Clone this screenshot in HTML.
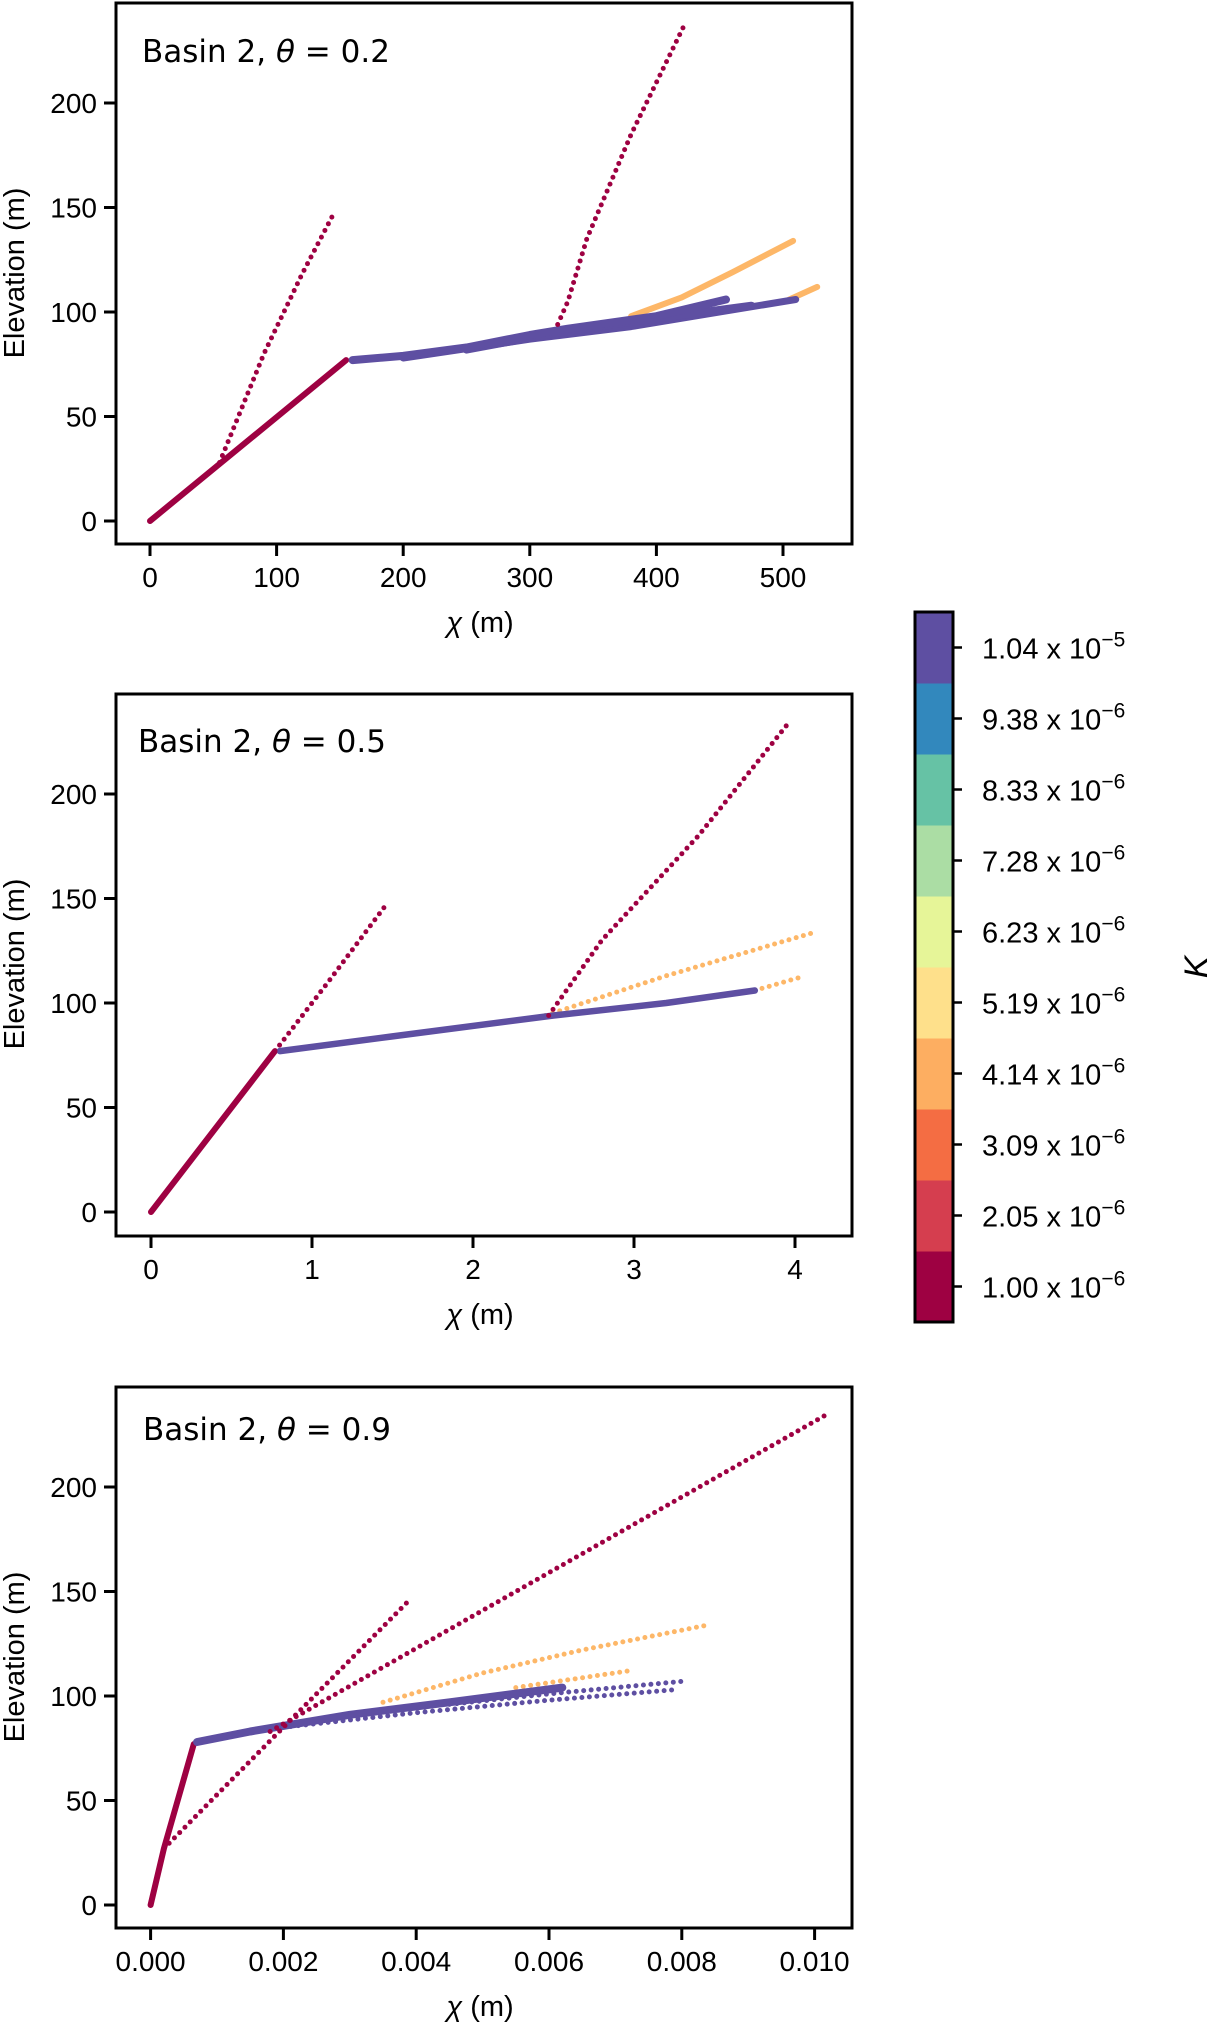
<!DOCTYPE html>
<html><head><meta charset="utf-8"><style>
body{margin:0;background:#fff;}
svg text{font-family:"Liberation Sans",Arial,sans-serif;fill:#000;}
.ann{font-family:"DejaVu Sans","Liberation Sans",sans-serif;}
</style></head><body>
<svg id="fig" width="1207" height="2022" viewBox="0 0 1207 2022" xmlns="http://www.w3.org/2000/svg">
</svg>
<script>
// ---- Panel 1 (theta = 0.2) data: [chi, elevation]
const p1Trunk = [[0,0],[155,77]];
const p1Main = [[160,77],[200,79],[250,83],[300,89],[330,92],[400,98],[455,106]];
const p1Low = [[200,78],[300,87],[380,93],[440,99],[510,106]];
const p1Mid = [[250,82],[330,91],[400,97],[475,103]];
const p1Orange = [[380,98],[420,107],[460,119],[508,134]];
const p1Orange2 = [[505,106],[527,112]];
const p1DotA = [[55,28],[90,80],[120,118],[145,147]];
const p1DotB = [[322,94],[330,105],[345,135],[380,185],[421,236]];
const p1XTicks = [0,100,200,300,400,500];
const p1XLabels = ["0","100","200","300","400","500"];
// ---- Panel 2 (theta = 0.5)
const p2Trunk = [[0,0],[0.77,77]];
const p2Main = [[0.8,77],[1.5,84],[2.5,94],[3.2,100],[3.75,106]];
const p2Orange = [[2.45,94],[3.2,113],[4.13,134]];
const p2Orange2 = [[3.75,106],[4.02,112]];
const p2DotA = [[0.77,77],[1.1,110],[1.46,147]];
const p2DotB = [[2.47,94],[2.8,130],[3.4,180],[3.97,235]];
const p2XTicks = [0,1,2,3,4];
const p2XLabels = ["0","1","2","3","4"];
// ---- Panel 3 (theta = 0.9)
const p3Trunk = [[0,0],[0.0002,27],[0.00065,77]];
const p3Main = [[0.0007,78],[0.0015,83],[0.003,91],[0.0045,97],[0.0062,104]];
const p3Low = [[0.002,85],[0.004,92],[0.006,98],[0.0079,103]];
const p3Mid = [[0.0045,96],[0.006,101],[0.008,107]];
const p3Orange = [[0.0035,97],[0.005,111],[0.0065,122],[0.0084,134]];
const p3Orange2 = [[0.0055,104],[0.0072,112]];
const p3DotA = [[0.0002,27],[0.002,85],[0.0039,146]];
const p3DotB = [[0.0018,83],[0.0102,235]];
const p3XTicks = [0,0.002,0.004,0.006,0.008,0.010];
const p3XLabels = ["0.000","0.002","0.004","0.006","0.008","0.010"];
// ---- shared
const yTicks = [0,50,100,150,200];
const yLabels = ["0","50","100","150","200"];
const cbColors = ["#9e0142","#d53e4f","#f46d43","#fdae61","#fee08b","#e6f598","#abdda4","#66c2a5","#3288bd","#5e4fa2"];
const cbMantissa = ["1.00","2.05","3.09","4.14","5.19","6.23","7.28","8.33","9.38","1.04"];
const cbExp = ["\u22126","\u22126","\u22126","\u22126","\u22126","\u22126","\u22126","\u22126","\u22126","\u22125"];

const NS="http://www.w3.org/2000/svg";
const fig=document.getElementById('fig');
function mk(tag,attrs,parent){const e=document.createElementNS(NS,tag);for(const k in attrs)e.setAttribute(k,attrs[k]);(parent||fig).appendChild(e);return e;}

const PURPLE="#5e4fa2",ORANGE="#fdb768",RED="#9e0142";
const panels=[
 {top:3,bottom:544,x0:150,xs:1.266,label:"0.2",lx:142,ly:62,xt:p1XTicks,xl:p1XLabels,
  series:[[p1Trunk,RED,false,6],[p1Orange,ORANGE,false,6],[p1Orange2,ORANGE,false,6],[p1Low,PURPLE,false,7],[p1Mid,PURPLE,false,8],[p1Main,PURPLE,false,8],[p1DotA,RED,true],[p1DotB,RED,true]]},
 {top:694,bottom:1236,x0:151,xs:161,label:"0.5",lx:138,ly:752,xt:p2XTicks,xl:p2XLabels,
  series:[[p2Trunk,RED,false,6],[p2Orange,ORANGE,true],[p2Orange2,ORANGE,true],[p2Main,PURPLE,false,6.5],[p2DotA,RED,true],[p2DotB,RED,true]]},
 {top:1387,bottom:1928,x0:150.6,xs:66400,label:"0.9",lx:143,ly:1440,xt:p3XTicks,xl:p3XLabels,
  series:[[p3Trunk,RED,false,6],[p3Orange,ORANGE,true],[p3Orange2,ORANGE,true],[p3Low,PURPLE,true],[p3Mid,PURPLE,true],[p3Main,PURPLE,false,8],[p3DotA,RED,true],[p3DotB,RED,true]]}
];
const LEFT=116,RIGHT=852;
panels.forEach((p,i)=>{
  const y0=p.top+518, ys=2.09;
  const X=v=>p.x0+v*p.xs, Y=v=>y0-v*ys;
  const g=mk('g',{});
  
  
  p.series.forEach((s,j)=>{
    const d=s[0].map((pt,k)=>(k?'L':'M')+X(pt[0]).toFixed(1)+' '+Y(pt[1]).toFixed(1)).join(' ');
    const a={d:d,fill:'none',stroke:s[1],'stroke-linecap':'round','stroke-linejoin':'round'};
    if(s[2]){a['stroke-width']=5;a['stroke-dasharray']='0 7.5';}else{a['stroke-width']=s[3]||6;}
    const e=mk('path',a,g);
    
    
  });
  const fr=mk('rect',{x:LEFT,y:p.top,width:RIGHT-LEFT,height:p.bottom-p.top,fill:'none',stroke:'#000','stroke-width':3},g);
  
  
  yTicks.forEach((v,k)=>{
    mk('line',{x1:LEFT-12,x2:LEFT,y1:Y(v),y2:Y(v),stroke:'#000','stroke-width':3},g);
    const t=mk('text',{x:97,y:Y(v)+10,'font-size':28,'text-anchor':'end'},g);t.textContent=yLabels[k];
    
    
  });
  p.xt.forEach((v,k)=>{
    mk('line',{x1:X(v),x2:X(v),y1:p.bottom,y2:p.bottom+12,stroke:'#000','stroke-width':3},g);
    const t=mk('text',{x:X(v),y:p.bottom+43,'font-size':28,'text-anchor':'middle'},g);t.textContent=p.xl[k];
    
    
  });
  const xt=mk('text',{x:480,y:p.bottom+88,'font-size':29,'text-anchor':'middle'},g);
  xt.innerHTML='<tspan font-style="italic">χ</tspan> (m)';
  
  
  const yt=mk('text',{x:0,y:0,'font-size':29,'text-anchor':'middle',transform:'translate(24 '+(p.top+270)+') rotate(-90)'},g);
  yt.textContent='Elevation (m)';
  
  
  const an=mk('text',{x:p.lx,y:p.ly,'font-size':31,class:'ann'},g);
  an.innerHTML='Basin 2, <tspan font-style="italic">θ</tspan> = '+p.label;
  
  
});
// colorbar
const CBT=612,CBB=1322,CBL=915,CBR=953,segH=(CBB-CBT)/cbColors.length;
const cb=mk('g',{});


cbColors.forEach((c,k)=>{
  const yTop=CBB-(k+1)*segH;
  const r=mk('rect',{x:CBL,y:yTop,width:CBR-CBL,height:segH+0.5,fill:c},cb);
  
  
  const yc=yTop+segH/2;
  mk('line',{x1:CBR,x2:CBR+9,y1:yc,y2:yc,stroke:'#000','stroke-width':2.5},cb);
  const t=mk('text',{x:982,y:yc+11,'font-size':29},cb);
  t.innerHTML=cbMantissa[k]+' x 10<tspan dy="-12" font-size="21">'+cbExp[k]+'</tspan>';
  
  
});
mk('rect',{x:CBL,y:CBT,width:CBR-CBL,height:CBB-CBT,fill:'none',stroke:'#000','stroke-width':3},cb);
const kt=mk('text',{x:0,y:0,'font-size':34,'font-style':'italic','text-anchor':'middle',transform:'translate(1208 967) rotate(-90)'},cb);
kt.textContent='K';


</script>
</body></html>
